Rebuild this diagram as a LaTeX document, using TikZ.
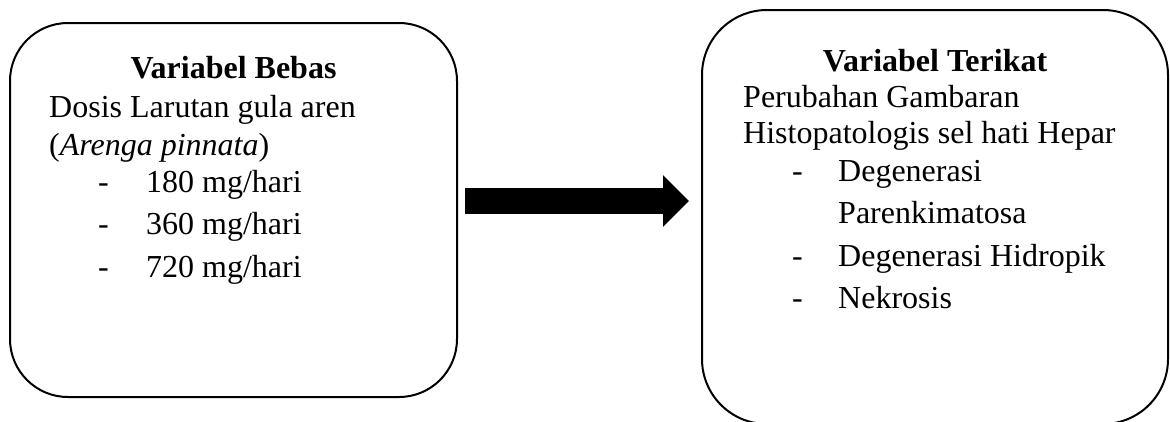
\documentclass[tikz,border=0pt]{standalone}
\usepackage{fontspec}
\setmainfont{Liberation Serif}
\usetikzlibrary{arrows.meta,calc}
\tikzset{
  roundbox/.style={draw=black, line width=2pt, rounded corners=#1, inner sep=0pt, fill=white},
  txt/.style={inner sep=0pt, anchor=base west, font=\fontsize{32}{38}\selectfont},
  ttl/.style={inner sep=0pt, anchor=base, font=\fontsize{32}{38}\selectfont\bfseries},
  blockarrow/.style={line width=26pt, -{Triangle[length=26pt,width=50pt]}}
}
\begin{document}
\begin{tikzpicture}[x=1pt,y=-1pt]
\useasboundingbox (0,0) rectangle (1170,421);
\clip (0,0) rectangle (1170,421);
\fill[white] (0,0) rectangle (1170,421);
% boxes
\node[roundbox=58pt, minimum width=447pt, minimum height=374pt] (bebas) at (233.5,210) {};
\node[roundbox=65pt, minimum width=466pt, minimum height=414pt] (terikat) at (935,217) {};
% arrow
\coordinate (arrS) at (465,201);
\coordinate (arrE) at (689,201);
\draw[blockarrow] (arrS) -- (arrE);
% left text
\node[ttl] (t1) at (233.5,78) {Variabel Bebas};
\node[txt] (l1) at (49,117) {Dosis Larutan gula aren};
\node[txt] (l2) at (49,155) {(\textit{Arenga pinnata})};
\node[txt] (d1) at (98,192) {-};
\node[txt] (l3) at (146,192) {180 mg/hari};
\node[txt] (d2) at (98,234) {-};
\node[txt] (l4) at (146,234) {360 mg/hari};
\node[txt] (d3) at (98,277) {-};
\node[txt] (l5) at (146,277) {720 mg/hari};
% right text
\node[ttl] (t2) at (935,71) {Variabel Terikat};
\node[txt] (r1) at (743,107) {Perubahan Gambaran};
\node[txt] (r2) at (743,143) {Histopatologis sel hati Hepar};
\node[txt] (e1) at (792,181) {-};
\node[txt] (r3) at (838,181) {Degenerasi};
\node[txt] (r4) at (838,223) {Parenkimatosa};
\node[txt] (e2) at (792,266) {-};
\node[txt] (r5) at (838,266) {Degenerasi Hidropik};
\node[txt] (e3) at (792,308) {-};
\node[txt] (r6) at (838,308) {Nekrosis};
\end{tikzpicture}
\end{document}
